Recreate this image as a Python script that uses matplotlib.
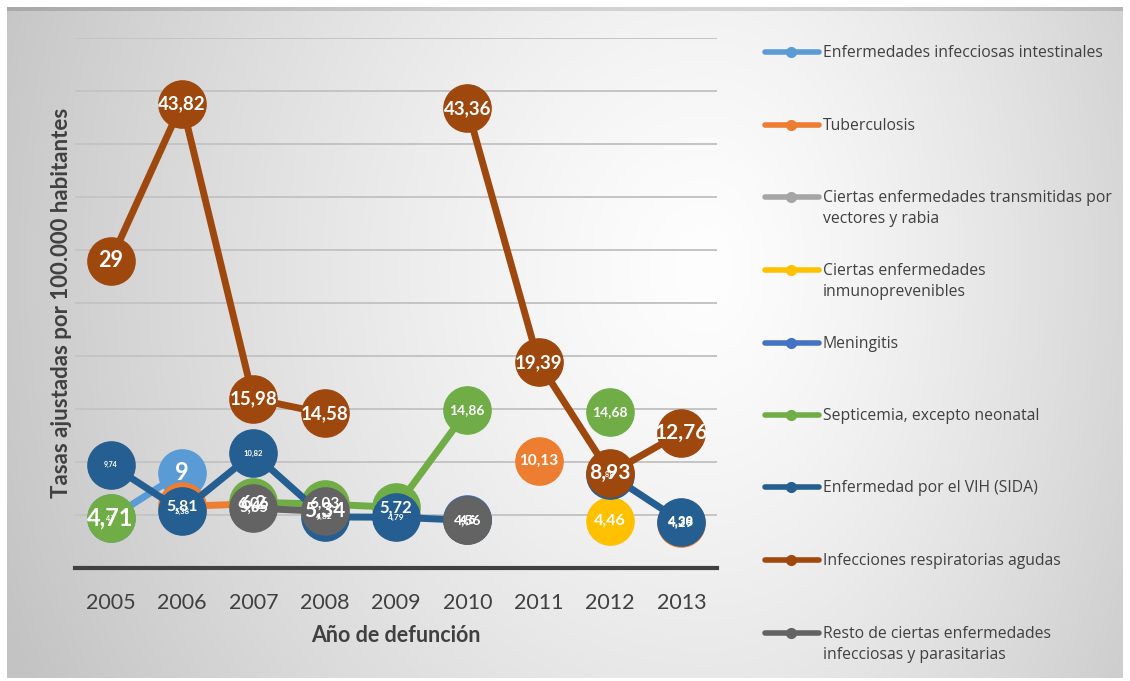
import numpy as np
import matplotlib
matplotlib.use("Agg")
import matplotlib.pyplot as plt
from matplotlib.lines import Line2D

nan = np.nan

years = ["2005", "2006", "2007", "2008", "2009", "2010", "2011", "2012", "2013"]

series_names = [
    "Enfermedades infecciosas intestinales",
    "Tuberculosis",
    "Ciertas enfermedades transmitidas por\nvectores y rabia",
    "Ciertas enfermedades\ninmunoprevenibles",
    "Meningitis",
    "Septicemia, excepto neonatal",
    "Enfermedad por el VIH (SIDA)",
    "Infecciones respiratorias agudas",
    "Resto de ciertas enfermedades\ninfecciosas y parasitarias",
]

intestinales = [4.7, 9, nan, nan, nan, nan, nan, nan, nan]
tuberculosis = [nan, 5.81, 6.06, nan, nan, nan, 10.13, nan, 4.29]
vectores = [nan, nan, nan, nan, nan, nan, nan, nan, nan]
inmunoprevenibles = [nan, nan, nan, nan, nan, nan, nan, 4.46, nan]
meningitis = [nan, nan, nan, nan, nan, 4.6, nan, nan, nan]
septicemia = [4.71, nan, 6.2, 6.03, 5.72, 14.86, nan, 14.68, nan]
vih = [9.74, 5.38, 10.82, 4.82, 4.79, 4.5, nan, 8.8, 4.38]
respiratorias = [29, 43.82, 15.98, 14.58, nan, 43.36, 19.39, 8.93, 12.76]
resto = [nan, nan, 5.65, 5.34, nan, 4.56, nan, nan, nan]

values = [intestinales, tuberculosis, vectores, inmunoprevenibles, meningitis,
          septicemia, vih, respiratorias, resto]

colors = ["#5B9BD5", "#ED7D31", "#A5A5A5", "#FFC000", "#4472C4",
          "#70AD47", "#255E91", "#9E480E", "#636363"]

# font size of each data label (Excel mixed them up)
label_sizes = [
    [5, 17, 0, 0, 0, 0, 0, 0, 0],
    [0, 11.5, 11.5, 0, 0, 0, 11, 0, 9.5],
    [0] * 9,
    [0, 0, 0, 0, 0, 0, 0, 11.5, 0],
    [0, 0, 0, 0, 0, 8.5, 0, 0, 0],
    [17, 0, 13.5, 11, 12, 10, 0, 10, 0],
    [5, 5.5, 5.5, 6, 6, 8.5, 0, 5, 9.5],
    [15.5, 13.5, 13.5, 13.5, 0, 13.5, 13.5, 15, 15],
    [0, 0, 10.5, 15, 0, 10, 0, 0, 0],
]

FONT = ["Lato", "DejaVu Sans"]

W, H = 1130, 681
fig = plt.figure(figsize=(W / 100, H / 100), dpi=100, facecolor="white")

# gradient background
bg = fig.add_axes([7 / W, 3 / H, (1123 - 7) / W, (681 - 7 - 3) / H], zorder=-5)
yy, xx = np.mgrid[0:671, 0:1116]
cx, cy = 700, 260
dx = np.where(xx < cx, (xx - cx) / 700.0, (xx - cx) / 520.0)
dy = (yy - cy) / 800.0
r = np.sqrt(dx ** 2 + dy ** 2)
img = np.clip(254 - 52 * r ** 1.3, 195, 254)
img[:4] -= 30
rgb = np.dstack([img, img, img]) / 255.0
bg.imshow(rgb, aspect="auto", interpolation="bilinear")
bg.axis("off")

ax = fig.add_axes([75 / W, 113 / H, (717 - 75) / W, (568 - 38) / H])
ax.set_facecolor("none")
x = np.arange(len(years))

for i, (name, vals, col) in enumerate(zip(series_names, values, colors)):
    ax.plot(x, vals, color=col, lw=5, marker="o", ms=34, mec=col, mfc=col,
            solid_capstyle="round", zorder=3 + i, clip_on=False)

for i, vals in enumerate(values):
    for j, v in enumerate(vals):
        if np.isnan(v) or label_sizes[i][j] == 0:
            continue
        txt = ("%.2f" % v).rstrip("0").rstrip(".").replace(".", ",")
        ax.text(x[j], v, txt, ha="center", va="center", color="white",
                fontsize=label_sizes[i][j], fontweight="bold",
                family=FONT, zorder=20)

ax.set_xlim(-0.5, len(years) - 0.5)
ax.set_ylim(0, 50)
ax.set_yticks(np.arange(5, 51, 5))
ax.yaxis.grid(True, color="#c4c4c4", lw=1.4)
ax.set_axisbelow(True)
ax.tick_params(axis="y", left=False, labelleft=False)
ax.tick_params(axis="x", length=0, pad=18, labelsize=15.5, labelcolor="#404040")
ax.set_xticks(x)
ax.set_xticklabels(years, family=FONT)
for s in ["top", "right", "left"]:
    ax.spines[s].set_visible(False)
ax.spines["bottom"].set_color("#404040")
ax.spines["bottom"].set_linewidth(3)
ax.spines["bottom"].set_zorder(30)

ax.set_xlabel("Año de defunción", fontsize=15.5, fontweight="bold", color="#404040",
              family=FONT, labelpad=9)
ax.set_ylabel("Tasas ajustadas por 100.000 habitantes", fontsize=16,
              fontweight="bold", color="#404040", family=FONT, labelpad=2)

# legend drawn by hand, one entry per series
legend_y = [52, 125, 197, 270, 343, 415, 487, 560, 633]
for name, col, ly in zip(series_names, colors, legend_y):
    yf = 1 - ly / H
    fig.add_artist(Line2D([765 / W, 819 / W], [yf, yf], color=col, lw=4,
                          solid_capstyle="round", transform=fig.transFigure))
    fig.add_artist(Line2D([791 / W], [yf], color=col, marker="o", ms=7,
                          transform=fig.transFigure))
    fig.text(823 / W, yf + 7 / H, name, ha="left", va="top", fontsize=11.3,
             color="#404040", family=["Open Sans", "DejaVu Sans"], linespacing=1.4)

fig.savefig("out.png", dpi=100, facecolor="white")
